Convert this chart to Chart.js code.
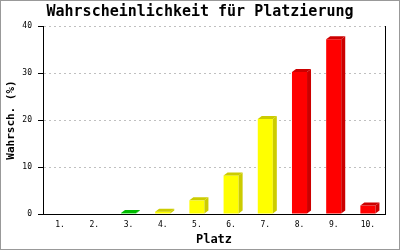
<!DOCTYPE html>
<html><head><meta charset="utf-8">
<script src="https://cdn.jsdelivr.net/npm/chart.js@4/dist/chart.umd.min.js"></script>
<style>html,body{margin:0;padding:0;background:#fff}canvas{display:block}</style>
</head><body>
<canvas id="c" width="400" height="250"></canvas>
<script>
const categories = ['1.', '2.', '3.', '4.', '5.', '6.', '7.', '8.', '9.', '10.'];
const values = [0, 0, 0.2, 0.5, 2.9, 8.2, 20.2, 30.2, 37.2, 1.8];
const yTicks = [0, 10, 20, 30, 40];

const frontColors = ['#00ee00','#00ee00','#00ee00','#ffff00','#ffff00','#ffff00','#ffff00','#ff0000','#ff0000','#ff0000'];
const sideColors  = ['#00bb00','#00bb00','#00bb00','#cccc00','#cccc00','#cccc00','#cccc00','#cc0000','#cc0000','#cc0000'];

const DX = 4, DY = 3;
const threeD = {
  id: 'threeD',
  afterDatasetsDraw(chart) {
    const ctx = chart.ctx;
    const meta = chart.getDatasetMeta(0);
    meta.data.forEach((bar, i) => {
      if (!values[i]) return;
      const p = bar.getProps(['x','y','base','width'], true);
      const l = p.x - p.width / 2, r = p.x + p.width / 2;
      ctx.save();
      ctx.fillStyle = sideColors[i];
      ctx.beginPath();
      ctx.moveTo(l, p.y); ctx.lineTo(l + DX, p.y - DY); ctx.lineTo(r + DX, p.y - DY); ctx.lineTo(r, p.y); ctx.closePath(); ctx.fill();
      ctx.beginPath();
      ctx.moveTo(r, p.y); ctx.lineTo(r + DX, p.y - DY); ctx.lineTo(r + DX, p.base - DY); ctx.lineTo(r, p.base); ctx.closePath(); ctx.fill();
      ctx.restore();
    });
  },
  afterDraw(chart) {
    const ctx = chart.ctx;
    ctx.save();
    ctx.strokeStyle = '#999'; ctx.lineWidth = 1;
    ctx.strokeRect(0.5, 0.5, chart.width - 1, chart.height - 1);
    ctx.restore();
  }
};

new Chart(document.getElementById('c'), {
  type: 'bar',
  data: {
    labels: categories,
    datasets: [{ data: values, backgroundColor: frontColors, borderWidth: 0, categoryPercentage: 1, barPercentage: 0.44 }]
  },
  options: {
    responsive: false, animation: false, devicePixelRatio: 1,
    layout: { padding: 0 },
    plugins: {
      legend: { display: false }, tooltip: { enabled: false },
      title: { display: true, text: 'Wahrscheinlichkeit für Platzierung', color: '#000',
        font: { family: 'DejaVu Sans Mono', size: 15, weight: 'bold', lineHeight: 1.2 }, padding: { top: 3.5, bottom: 4.5 } }
    },
    scales: {
      x: {
        grid: { display: false, drawTicks: false },
        border: { display: true, color: '#000', width: 1 },
        ticks: { color: '#000', font: { family: 'DejaVu Sans Mono', size: 8 }, padding: 6, maxRotation: 0 },
        title: { display: true, text: 'Platz', color: '#000', font: { family: 'DejaVu Sans Mono', size: 12, weight: 'bold' }, padding: { top: 0, bottom: 3 } },
        afterFit: s => { s.height = 36; }
      },
      y: {
        min: 0, max: 40,
        afterBuildTicks: s => { s.ticks = yTicks.map(v => ({ value: v })); },
        grid: { color: c => (c.tick && c.tick.value === 0) ? 'rgba(0,0,0,0)' : '#c0c0c0', tickColor: '#000', tickLength: 5, tickBorderDash: [] },
        border: { display: true, color: '#000', width: 1, dash: [2, 3] },
        ticks: { color: '#000', font: { family: 'DejaVu Sans Mono', size: 8 }, padding: 6 },
        title: { display: true, text: 'Wahrsch. (%)', color: '#000', font: { family: 'DejaVu Sans Mono', size: 11, weight: 'bold' }, padding: { top: 5, bottom: 0 } },
        afterFit: s => { s.width = 43; }
      },
      y2: {
        position: 'right', min: 0, max: 40,
        grid: { display: false, drawTicks: false },
        border: { display: true, color: '#000', width: 1 },
        ticks: { display: false },
        afterFit: s => { s.width = 15; }
      }
    }
  },
  plugins: [threeD]
});
</script>
</body></html>
